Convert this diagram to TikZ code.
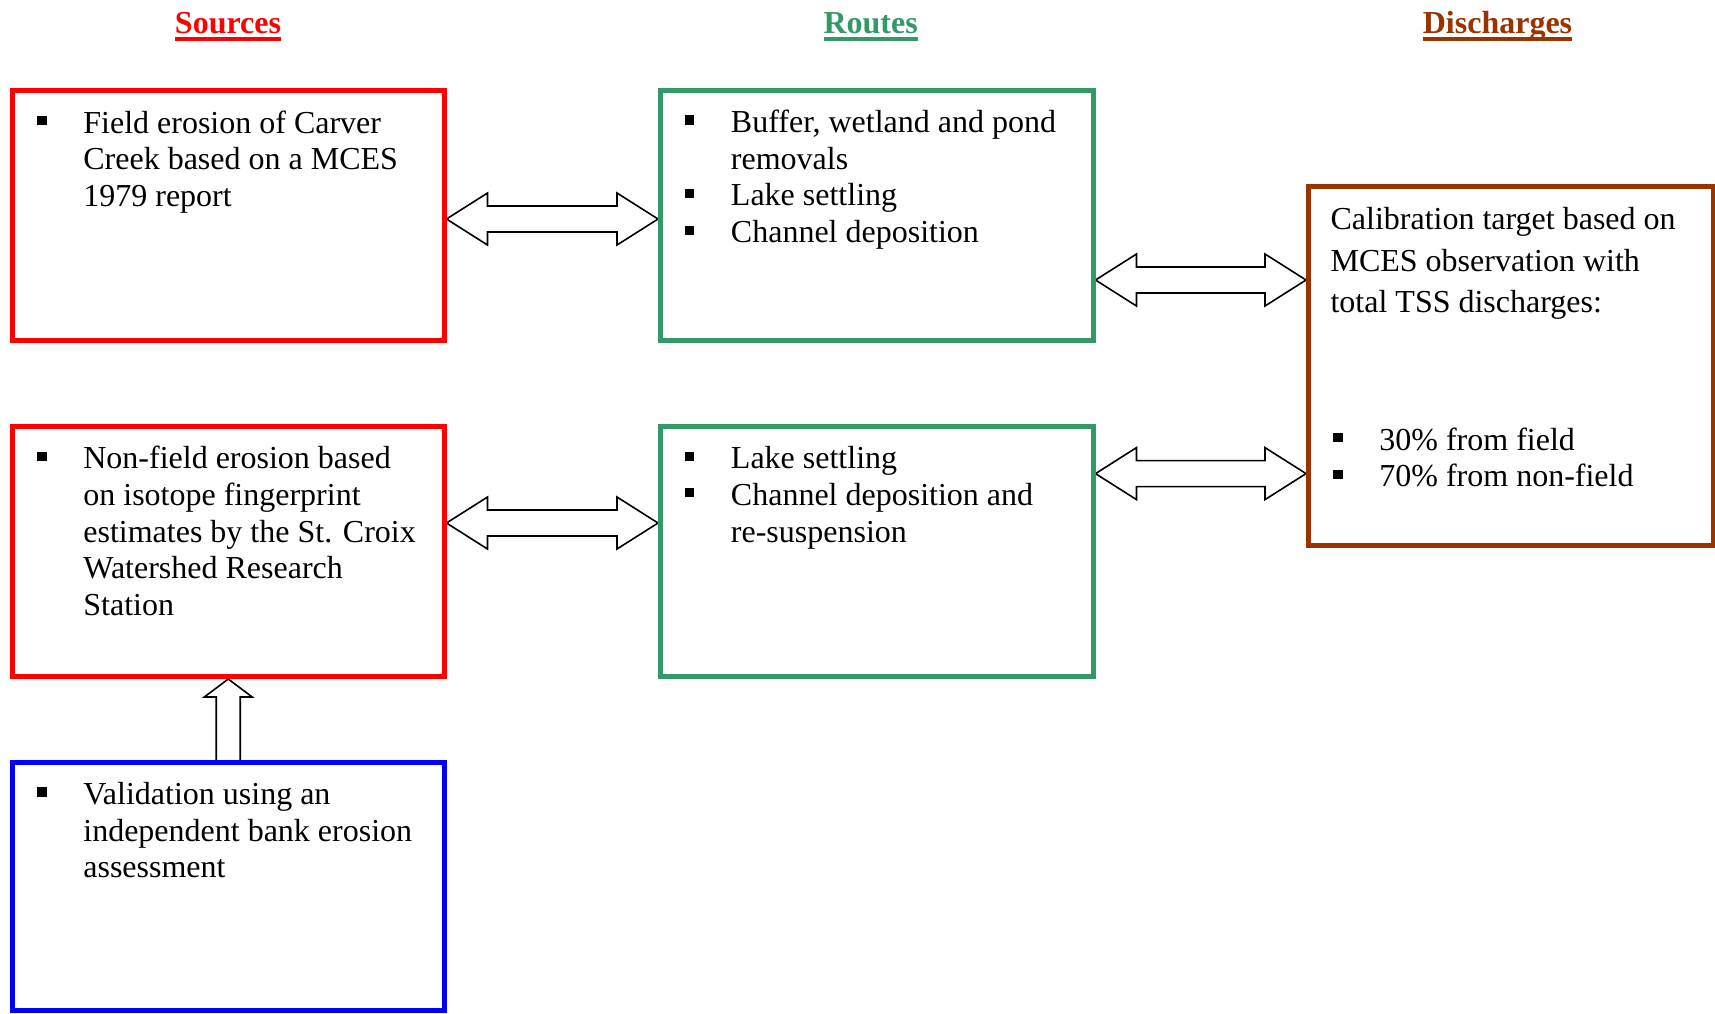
\documentclass[tikz,border=0pt]{standalone}
\usepackage{fontspec}
\setmainfont{Liberation Serif}
\usetikzlibrary{calc}
\definecolor{srcred}{RGB}{255,0,0}
\definecolor{rtgreen}{RGB}{51,153,102}
\definecolor{dcbrown}{RGB}{153,51,0}
\definecolor{valblue}{RGB}{0,0,255}
\newcommand{\pxu}{0.375pt}
\newcommand{\sqbul}{\rule[3pt]{3.6pt}{3.4pt}}
\newcommand{\bcol}{\makebox[17.3pt][l]{\sqbul}}
\newcommand{\hdul}[1]{\setbox0\hbox{#1}\rlap{\rule[-2.8pt]{\wd0}{1.3pt}}\box0}
\newcommand{\dblarrow}[2]{%
  \draw[arrowbody] (#1) -- ($(#1)+(41,-26)$) -- ($(#1)+(41,-13)$) -- ($(#2)+(-41,-13)$) -- ($(#2)+(-41,-26)$) -- (#2)
    -- ($(#2)+(-41,26)$) -- ($(#2)+(-41,13)$) -- ($(#1)+(41,13)$) -- ($(#1)+(41,26)$) -- cycle;}
\pgfdeclarelayer{bg}
\pgfsetlayers{bg,main}
\begin{document}
\begin{tikzpicture}[x=0.375pt,y=-0.375pt,
  box/.style={draw=#1, line width=5*\pxu, anchor=north west, inner sep=0pt},
  txt/.style={inner sep=0pt, anchor=base west, font=\fontsize{12}{13.76}\selectfont},
  hdr/.style={inner sep=0pt, anchor=base, font=\bfseries\fontsize{12}{13.76}\selectfont},
  arrowbody/.style={draw=black, fill=white, line width=0.6pt, line join=miter}]
\useasboundingbox (0,0) rectangle (1715,1013);

% headers
\node[hdr, text=srcred] (hs) at (228,33.3) {\hdul{Sources}};
\node[hdr, text=rtgreen] (hr) at (870.6,33.3) {\hdul{Routes}};
\node[hdr, text=dcbrown] (hd) at (1497.5,33.3) {\hdul{Discharges}};

% boxes
\node[box=srcred, minimum width=431.5*\pxu, minimum height=250*\pxu] (r1) at (10,88) {};
\node[box=rtgreen, minimum width=432.5*\pxu, minimum height=250*\pxu] (g1) at (658,88) {};
\node[box=srcred, minimum width=431.5*\pxu, minimum height=250*\pxu] (r2) at (10,424) {};
\node[box=rtgreen, minimum width=432.5*\pxu, minimum height=250*\pxu] (g2) at (658,424) {};
\node[box=valblue, minimum width=431.5*\pxu, minimum height=248*\pxu] (bl) at (10,760) {};
\node[box=dcbrown, minimum width=404.5*\pxu, minimum height=359*\pxu] (dc) at (1306,184) {};

% texts
\node[txt] (t1) at (36.7,133) {\begin{tabular}[t]{@{}l@{}l@{}}\bcol & Field erosion of Carver\\ & Creek based on a MCES\\ & 1979 report\end{tabular}};
\node[txt] (t2) at (36.7,468.7) {\begin{tabular}[t]{@{}l@{}l@{}}\bcol & Non-field erosion based\\ & on isotope fingerprint\\ & estimates by the St. Croix\\ & Watershed Research\\ & Station\end{tabular}};
\node[txt] (t3) at (36.7,804.5) {\begin{tabular}[t]{@{}l@{}l@{}}\bcol & Validation using an\\ & independent bank erosion\\ & assessment\end{tabular}};
\node[txt] (t4) at (684.3,132.5) {\begin{tabular}[t]{@{}l@{}l@{}}\bcol & Buffer, wetland and pond\\ & removals\\ \bcol & Lake settling\\ \bcol & Channel deposition\end{tabular}};
\node[txt] (t5) at (684.3,468.7) {\begin{tabular}[t]{@{}l@{}l@{}}\bcol & Lake settling\\ \bcol & Channel deposition and\\ & re-suspension\end{tabular}};
\node[txt, font=\fontsize{12}{15.64}\selectfont] (t6) at (1330,229.3) {\begin{tabular}[t]{@{}l@{}}Calibration target based on\\ MCES observation with\\ total TSS discharges:\end{tabular}};
\node[txt] (t7) at (1332.7,450) {\begin{tabular}[t]{@{}l@{}l@{}}\bcol & 30\% from field\\ \bcol & 70\% from non-field\end{tabular}};

% arrow anchors
\coordinate (ya) at (0,219);
\coordinate (yb) at (0,523);
\coordinate (yc) at (0,280);
\coordinate (yd) at (0,473.6);
\coordinate (a1) at (r1.east |- ya);
\coordinate (b1) at (g1.west |- ya);
\coordinate (a2) at (r2.east |- yb);
\coordinate (b2) at (g2.west |- yb);
\coordinate (a3) at (g1.east |- yc);
\coordinate (b3) at (dc.west |- yc);
\coordinate (a4) at (g2.east |- yd);
\coordinate (b4) at (dc.west |- yd);

\begin{pgfonlayer}{bg}
\dblarrow{a1}{b1}
\dblarrow{a2}{b2}
\dblarrow{a3}{b3}
\dblarrow{a4}{b4}
\draw[arrowbody] (r2.south) -- ($(r2.south)+(24,18)$) -- ($(r2.south)+(12,18)$) -- ($(bl.north)+(12,2)$)
  -- ($(bl.north)+(-12,2)$) -- ($(r2.south)+(-12,18)$) -- ($(r2.south)+(-24,18)$) -- cycle;
\end{pgfonlayer}
\end{tikzpicture}
\end{document}
